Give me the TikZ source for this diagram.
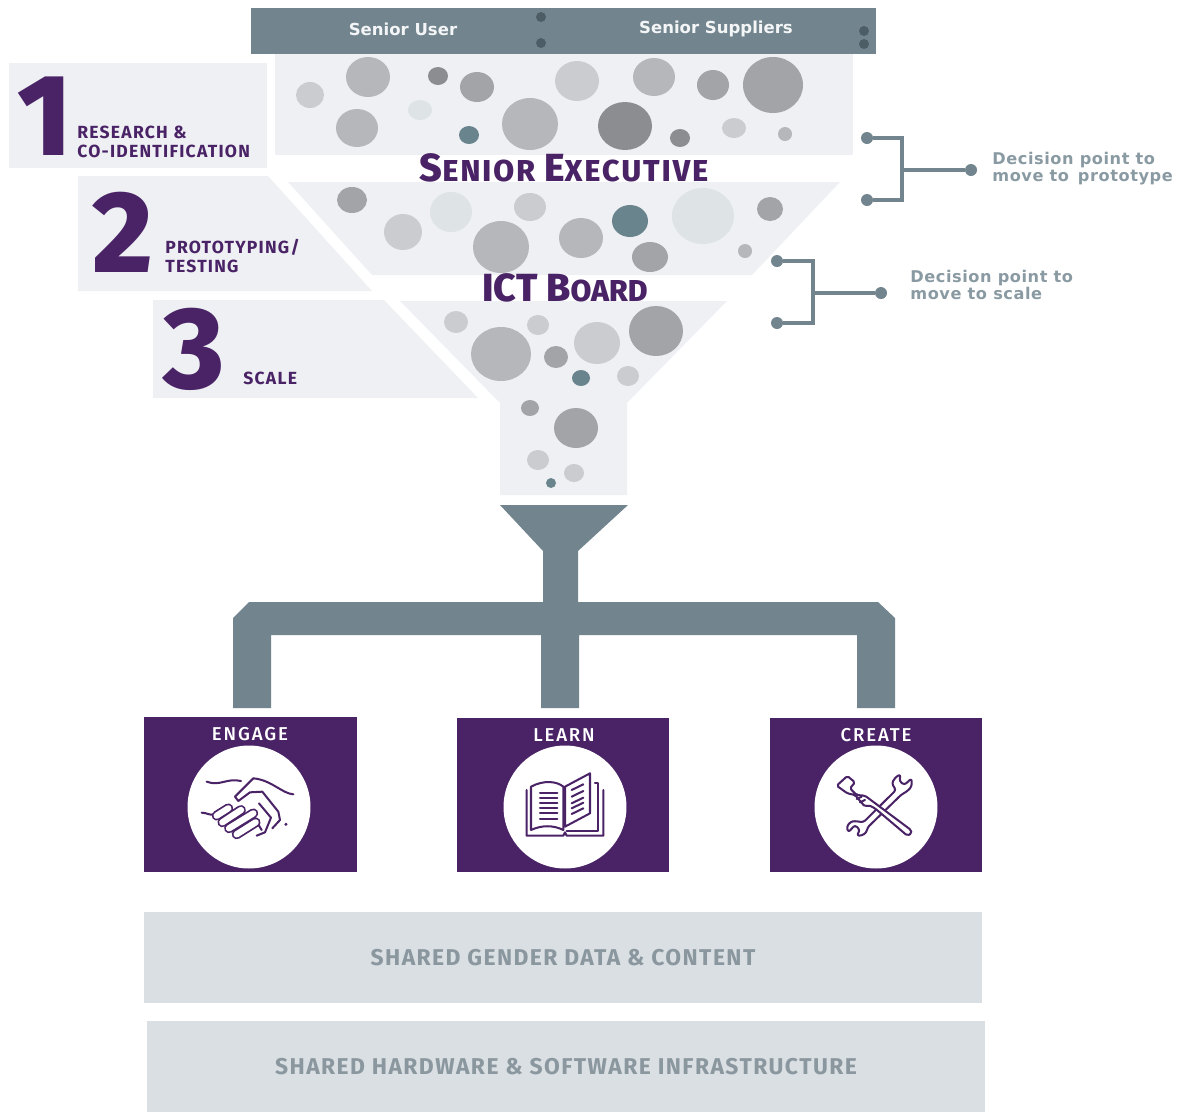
\documentclass[tikz,border=0pt]{standalone}
\usepackage{fontspec}
\setmainfont{Fira Sans}
\newfontfamily\heavyfont{Fira Sans ExtraBold}
\newfontfamily\mediumfont{Fira Sans Medium}
\newfontfamily\widefont{DejaVu Sans}
\usepackage{tikz}
\definecolor{plum}{HTML}{4A2366}
\definecolor{slate}{HTML}{72858E}
\definecolor{slatedark}{HTML}{4D5D66}
\definecolor{mist}{HTML}{EEF0F3}
\definecolor{fog}{HTML}{D9DFE3}
\definecolor{ash}{HTML}{8A9AA3}
\definecolor{ashtext}{HTML}{8B979E}
\definecolor{bubL}{HTML}{CBCCCF}
\definecolor{bubM}{HTML}{B6B7BA}
\definecolor{bubD}{HTML}{A3A4A7}
\definecolor{bubX}{HTML}{8C8D90}
\definecolor{bubP}{HTML}{DEE3E6}
\definecolor{bubT}{HTML}{6A848D}
\newcommand{\px}[1]{\fontsize{#1}{#1}\selectfont}

\begin{document}
\begin{tikzpicture}[x=.02cm,y=-.02cm,
  tab/.style={inner sep=0, anchor=west, align=left, text=plum, font=\bfseries\fontsize{10}{10.8}\selectfont\addfontfeatures{LetterSpace=7}},
  decision/.style={inner sep=0, anchor=west, align=left, text=ash, font=\widefont\bfseries\fontsize{9.2}{9.7}\selectfont\addfontfeatures{LetterSpace=3.5}},
  numeral/.style={inner sep=0, text=plum, font=\heavyfont\px{66}},
  board/.style={inner sep=0, text=plum, font=\heavyfont},
  header/.style={inner sep=0, anchor=base, text=white!92!slate, font=\widefont\bfseries\px{9.4}},
  dot/.style={circle, inner sep=0, minimum size=.24cm, fill=slate},
  pipe/.style={draw=slate, line width=2.2pt},
  stream/.style={minimum width=16.76cm, minimum height=1.82cm, inner sep=0, fill=fog, text=ashtext, font=\bfseries\px{13}\addfontfeatures{LetterSpace=6.3}},
  task/.style={minimum width=4.25cm, minimum height=3.09cm, inner sep=0, fill=plum},
  tasktitle/.style={inner sep=0, text=white, font=\mediumfont\px{10.6}\addfontfeatures{LetterSpace=10}},
  badge/.style={circle, inner sep=0, minimum size=2.46cm, fill=white},
  icon/.style={draw=plum, line width=1.15pt, line join=round, line cap=round},
  finger/.style={draw=plum, line width=1pt, double=white, double distance=3.6pt, line cap=round}]
\useasboundingbox (0,0) rectangle (1184,1113);

\fill[mist] (275,54) rectangle (853,155);
\fill[mist] (288,182) -- (840,182) -- (752,275) -- (372,275) -- cycle;
\fill[mist] (400,301) -- (727,301) -- (627,403) -- (627,495) -- (500,495) -- (500,403) -- cycle;
\fill[mist] (9,63) rectangle (267,168);
\fill[mist] (78,176) -- (268,176) -- (372,291) -- (78,291) -- cycle;
\fill[mist] (153,300) -- (384,300) -- (478,398) -- (153,398) -- cycle;

\foreach \x/\y/\rx/\ry/\c in {310/95/14/13/bubL, 368/77/22/20/bubM, 438/76/10/9/bubX, 477/87/17/15/bubD,
  420/110/12/10/bubP, 357/128/21/19/bubM, 469/135/10/9/bubT, 530/124/28/26/bubM, 577/81/22/20/bubL,
  654/77/21/19/bubM, 713/85/16/15/bubD, 773/85/30/28/bubD, 625/126/27/24/bubX, 680/138/10/9/bubX,
  734/128/12/10/bubL, 785/134/7/7/bubM,
  352/200/15/13/bubD, 403/232/19/18/bubL, 451/212/21/20/bubP, 530/207/16/14/bubL, 501/247/28/26/bubM,
  581/238/22/20/bubM, 630/221/18/16/bubT, 703/216/31/28/bubP, 770/209/13/12/bubD, 650/257/18/15/bubD,
  745/251/7/7/bubM,
  456/322/12/11/bubL, 538/325/11/10/bubL, 501/354/30/27/bubM, 556/357/12/11/bubD, 597/343/23/21/bubL,
  656/331/27/25/bubD, 581/378/9/8/bubT, 628/376/11/10/bubL, 530/408/9/8/bubD, 576/428/22/20/bubD,
  538/460/11/10/bubL, 574/473/10/9/bubL, 551/483/5/5/bubT}
  \fill[\c] (\x,\y) ellipse [x radius=\rx, y radius=\ry];

\fill[slate] (251,8) rectangle (876,54);
\foreach \x/\y in {541/17, 541/43, 864/31, 864/44}
  \fill[slatedark] (\x,\y) circle [radius=5];
\node at (403,35.5) [name=senioruser, header] {Senior User};
\node at (716,33) [name=seniorsuppliers, header] {Senior Suppliers};

\node at (564,168) [name=executive, board] {\addfontfeatures{LetterSpace=7}\px{22.3}S\px{17.2}ENIOR \px{22.3}E\px{17.2}XECUTIVE};
\node at (565,288) [name=ictboard, board] {\px{22.3}ICT B\px{17.2}OARD};

\node at (45,116) [name=one, numeral] {1};
\node at (123,232) [name=two, numeral] {2};
\node at (194,349) [name=three, numeral] {3};
\node at (77,141.5) [name=research, tab] {RESEARCH \&\\CO-IDENTIFICATION};
\node at (165,255.5) [name=prototyping, tab] {PROTOTYPING/\\TESTING};
\node at (243,378) [name=scale, tab] {SCALE};

\node at (867,138) [name=protoa, dot] {};
\node at (867,200) [name=protob, dot] {};
\node at (971,170) [name=protoc, dot] {};
\coordinate (protoaturn) at (902,138);
\coordinate (protobturn) at (902,200);
\coordinate (protojoin) at (902,170);
\draw[pipe] (protoa) -- (protoaturn) -- (protobturn) -- (protob);
\draw[pipe] (protojoin) -- (protoc);
\node at (992,168.5) [name=protonote, decision] {Decision point to\\move to\, prototype};

\node at (777,261) [name=scalea, dot] {};
\node at (777,323) [name=scaleb, dot] {};
\node at (881,293) [name=scalec, dot] {};
\coordinate (scaleaturn) at (813,261);
\coordinate (scalebturn) at (813,323);
\coordinate (scalejoin) at (813,293);
\draw[pipe] (scalea) -- (scaleaturn) -- (scalebturn) -- (scaleb);
\draw[pipe] (scalejoin) -- (scalec);
\node at (910,285) [name=scalenote, decision] {Decision point to\\move to scale};

\fill[slate] (500,505) -- (628,505) -- (578,551) -- (578,602) -- (878,602) -- (895,618) -- (895,708)
  -- (857,708) -- (857,635) -- (579,635) -- (579,708) -- (541,708) -- (541,635) -- (271,635)
  -- (271,708) -- (233,708) -- (233,618) -- (249,602) -- (543,602) -- (543,551) -- cycle;

\node at (250.5,794.5) [name=engage, task] {};
\node at (563,795) [name=learn, task] {};
\node at (876,795) [name=create, task] {};
\node at (250,734) [name=engagetitle, tasktitle] {ENGAGE};
\node at (564,735) [name=learntitle, tasktitle] {LEARN};
\node at (876,735) [name=createtitle, tasktitle] {CREATE};
\node at (249,807) [name=engagebadge, badge] {};
\node at (565,807) [name=learnbadge, badge] {};
\node at (876,807) [name=createbadge, badge] {};

\begin{scope}[shift={(185,745)},scale=.3333]
\draw[icon] (65,110) .. controls (105,125) and (125,98) .. (168,108);
\draw[icon] (205,100) .. controls (260,105) and (290,145) .. (325,148);
\draw[icon] (50,203) .. controls (65,203) and (75,212) .. (85,208);
\draw[icon] (205,100) -- (150,155) -- (160,168) -- (195,142) -- (232,140) -- (280,200) -- (285,225) -- (262,250);
\draw[icon] (222,175) -- (258,218) -- (240,262) -- (215,272);
\draw[icon] (215,230) -- (230,255);
\draw[finger] (95,212) -- (130,190);
\draw[finger] (112,232) -- (168,195);
\draw[finger] (132,250) -- (205,205);
\draw[finger] (155,268) -- (212,232);
\fill[plum] (303,238) circle [radius=5];
\end{scope}

\begin{scope}[shift={(500,745)},scale=.3333]
\draw[icon] (80,135) -- (80,272) -- (190,272) -- (195,262) -- (200,272) -- (310,272) -- (310,135);
\draw[icon] (285,115) -- (295,115) -- (295,258) -- (200,258);
\draw[icon] (93,255) -- (93,125) .. controls (130,105) and (170,108) .. (190,125) -- (190,255) .. controls (160,240) and (125,240) .. (93,255);
\draw[icon] (195,125) -- (270,85) -- (270,205) -- (195,245) -- cycle;
\foreach \y in {145,160,175,190,205,222}
  \draw[icon] (120,\y) -- (172,\y);
\foreach \y in {135,155,175,190,207}
  \draw[icon] (215,\y) -- (250,\y-17);
\end{scope}

\begin{scope}[shift={(810,745)},scale=.3333]
\draw[icon, fill=white, rounded corners=1.5pt] (160,232) -- (258,135) -- (245,115) -- (258,95) -- (272,88) -- (268,108) -- (283,120)
  -- (305,100) -- (305,125) -- (290,140) -- (275,148) -- (172,248) -- (170,262) -- (155,272) -- (140,272) -- (150,255)
  -- (135,240) -- (115,262) -- (110,245) -- (122,230) -- (135,228) -- cycle;
\draw[icon, fill=white, rounded corners=1pt] (80,122) -- (112,93) -- (135,112) -- (120,130) -- (140,150) -- (165,152) -- (303,255)
  -- (305,265) -- (292,272) -- (195,190) -- (175,180) -- (165,185) -- (135,150) -- (112,145) -- cycle;
\draw[icon] (140,162) -- (155,155);
\draw[icon] (150,172) -- (165,165);
\end{scope}

\node at (563,957.5) [name=datalayer, stream] {SHARED GENDER DATA \& CONTENT};
\node at (566,1066.5) [name=infralayer, stream] {SHARED HARDWARE \& SOFTWARE INFRASTRUCTURE\hspace{4pt}};
\end{tikzpicture}
\end{document}
